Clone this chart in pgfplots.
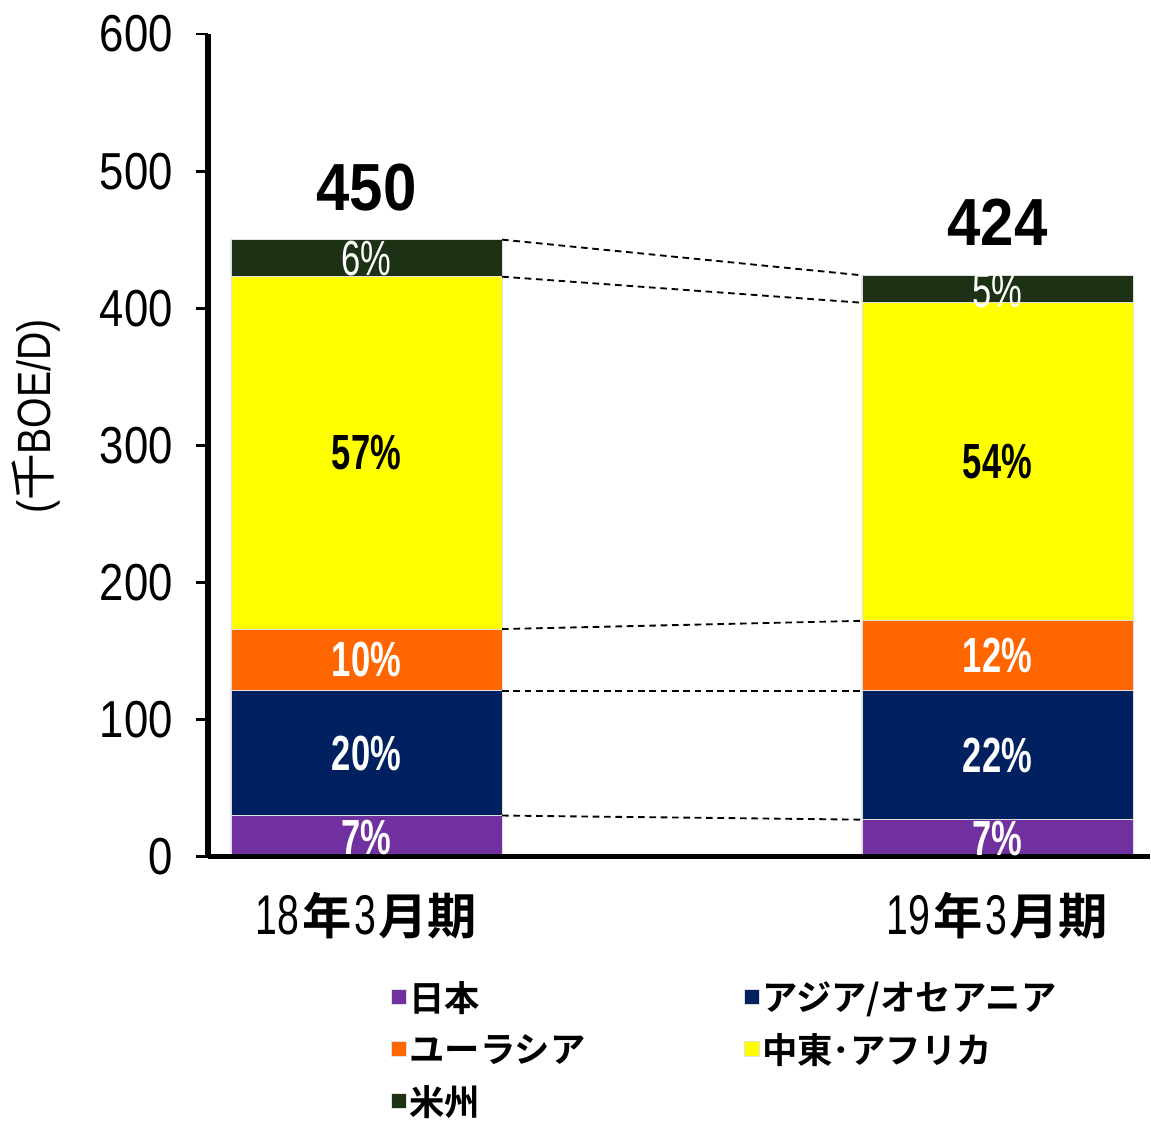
\documentclass[border=0pt]{standalone}
\usepackage{pgfplots}
\usepackage{pgfplotstable}
\pgfplotsset{compat=1.18}
\usepackage{fontspec}
\setmainfont{Liberation Sans}
\newfontfamily\nar{Liberation Sans}[FakeStretch=0.84]
\newfontfamily\narw{Liberation Sans}[FakeStretch=0.9]
\newfontfamily\narr{Liberation Sans}[FakeStretch=0.70]
\newfontfamily\jp{Noto Sans CJK JP}[BoldFont={Noto Sans CJK JP Bold}]
\definecolor{cjp}{RGB}{112,48,160}
\definecolor{cas}{RGB}{0,32,96}
\definecolor{ceu}{RGB}{255,102,0}
\definecolor{cme}{RGB}{255,255,0}
\definecolor{cam}{RGB}{29,49,21}
\newcommand{\pctf}{\fontsize{37}{37}\selectfont\narr\bfseries}
\newcommand{\cat}[1]{{\fontsize{42}{42}\selectfont\narr #1}\hspace{2pt}{\fontsize{37}{37}\selectfont\jp\bfseries 年}\hspace{2pt}{\fontsize{42}{42}\selectfont\narr 3}\hspace{2pt}{\fontsize{37}{37}\selectfont\jp\bfseries 月期}}
\newcommand{\overlays}{%
\draw[line width=1.4pt, dash pattern=on 5pt off 3.5pt] (axis cs:0.2148,450) -- (axis cs:0.7852,424);
\draw[line width=1.4pt, dash pattern=on 5pt off 3.5pt] (axis cs:0.2148,423) -- (axis cs:0.7852,404);
\draw[line width=1.4pt, dash pattern=on 5pt off 3.5pt] (axis cs:0.2148,166) -- (axis cs:0.7852,172);
\draw[line width=1.4pt, dash pattern=on 5pt off 3.5pt] (axis cs:0.2148,121) -- (axis cs:0.7852,121);
\draw[line width=1.4pt, dash pattern=on 5pt off 3.5pt] (axis cs:0.2148,30) -- (axis cs:0.7852,27);
\node[font=\pctf, text=white] at (axis cs:0,14) {7\%};
\node[font=\pctf, text=white] at (axis cs:0,75.5) {20\%};
\node[font=\pctf, text=white] at (axis cs:0,143.5) {10\%};
\node[font=\pctf, text=black] at (axis cs:0,294.5) {57\%};
\node[font=\fontsize{37}{37}\selectfont\narr, text=white] at (axis cs:0,436.5) {6\%};
\node[font=\pctf, text=white] at (axis cs:1,13.5) {7\%};
\node[font=\pctf, text=white] at (axis cs:1,74) {22\%};
\node[font=\pctf, text=white] at (axis cs:1,146.5) {12\%};
\node[font=\pctf, text=black] at (axis cs:1,288) {54\%};
\node[font=\fontsize{37}{37}\selectfont\narr, text=white] at (axis cs:1,413) {5\%};
\node[font=\fontsize{50}{50}\selectfont\narw\bfseries] at (axis cs:0,488) {450};
\node[font=\fontsize{50}{50}\selectfont\narw\bfseries] at (axis cs:1,463) {424};
}
\pgfplotstableread{
x jp as eu me am
0 30 91 45 257 27
1 27 94 51 232 20
}\data
\begin{document}
\begin{tikzpicture}
\begin{axis}[
  axis on top,
  scale only axis,
  width=706.5pt, height=617pt,
  xmin=-0.2512, xmax=1.2417,
  ymin=0, ymax=600,
  enlargelimits=false,
  ybar stacked,
  bar width=0.4295,
  axis x line=bottom, axis y line=left,
  axis line style={line width=3.8pt, -},
  ytick={0,100,...,600},
  xtick={0,1},
  xticklabels={\cat{18}, \cat{19}},
  x tick style={draw=none},
  y tick style={line width=2.2pt, black},
  tick align=outside,
  major tick length=9pt,
  /pgf/number format/assume math mode=true,
  yticklabel style={font=\fontsize{39}{39}\selectfont\nar, xshift=-14pt},
  xticklabel style={yshift=-14pt},
  ylabel={{\nar (}{\jp 千}{\nar BOE/D)}},
  ylabel style={font=\fontsize{35}{35}\selectfont, at={(ticklabel cs:0.535,23pt)}},
  clip=false,
  legend columns=2,
  legend cell align=left,
  legend style={draw=none, fill=none, font=\fontsize{26.5}{26.5}\selectfont\jp\bfseries,
    at={(0.19,-0.145)}, anchor=north west, row sep=11pt,
    /tikz/every even column/.append style={column sep=117pt}},
  legend image code/.code={\fill[#1] (0pt,-5pt) rectangle (11pt,6pt);},
  after end axis/.code={\overlays},
]
\addplot[fill=cjp, draw=white!75!gray, line width=0.6pt] table[x=x,y=jp]{\data};
\addplot[fill=cas, draw=white!75!gray, line width=0.6pt] table[x=x,y=as]{\data};
\addplot[fill=ceu, draw=white!75!gray, line width=0.6pt] table[x=x,y=eu]{\data};
\addplot[fill=cme, draw=white!75!gray, line width=0.6pt] table[x=x,y=me]{\data};
\addplot[fill=cam, draw=white!75!gray, line width=0.6pt] table[x=x,y=am]{\data};
\legend{日本, アジア/オセアニア, ユーラシア, 中東･アフリカ, 米州}
\end{axis}
\pgfresetboundingbox
\path[use as bounding box] ([xshift=-156pt,yshift=-198pt]current axis.south west) rectangle ([xshift=0.75pt,yshift=25.5pt]current axis.north east);
\end{tikzpicture}
\end{document}
